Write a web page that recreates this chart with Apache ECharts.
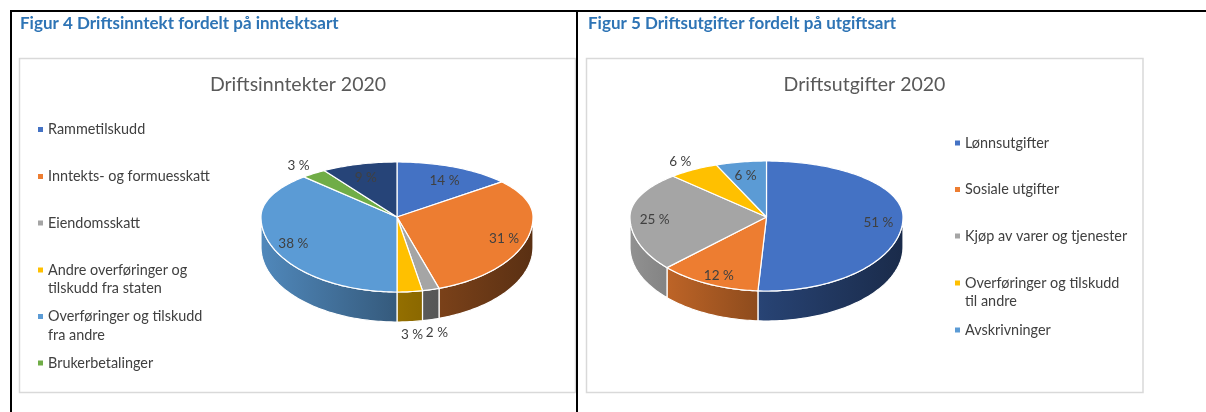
<!DOCTYPE html>
<html><head><meta charset="utf-8">
<script src="https://cdn.jsdelivr.net/npm/echarts@6/dist/echarts.min.js"></script>
<style>html,body{margin:0;padding:0;background:#fff}#c{width:1206px;height:412px}</style>
</head><body><div id="c"></div>
<script>
// ---- data ----
const inntektKategorier = ['Rammetilskudd', 'Inntekts- og formuesskatt', 'Eiendomsskatt', 'Andre overføringer og tilskudd fra staten', 'Overføringer og tilskudd fra andre', 'Brukerbetalinger', 'Øvrige inntekter'];
const inntektVerdier = [14, 31, 2, 3, 38, 3, 9];
const utgiftKategorier = ['Lønnsutgifter', 'Sosiale utgifter', 'Kjøp av varer og tjenester', 'Overføringer og tilskudd til andre', 'Avskrivninger'];
const utgiftVerdier = [51, 12, 25, 6, 6];

// ---- styles ----
const inntektFarger = ['#4472C4', '#ED7D31', '#A5A5A5', '#FFC000', '#5B9BD5', '#70AD47', '#264478'];
const utgiftFarger = ['#4472C4', '#ED7D31', '#A5A5A5', '#FFC000', '#5B9BD5'];
const inntektEtikettUtenfor = [false, false, true, true, false, true, false];
const utgiftEtikettUtenfor = [false, false, false, true, false];
const inntektLegendAntall = 6;
const legendBryt = {
  'Andre overføringer og tilskudd fra staten': 'Andre overføringer og\ntilskudd fra staten',
  'Overføringer og tilskudd fra andre': 'Overføringer og tilskudd\nfra andre',
  'Overføringer og tilskudd til andre': 'Overføringer og tilskudd\ntil andre'
};

const FONT = 'Lato, "Open Sans", sans-serif';
const TXT = '#404040';
const LH = 18.5;

function shade(hex, f) {
  const n = parseInt(hex.slice(1), 16);
  const r = Math.round(((n >> 16) & 255) * f), g = Math.round(((n >> 8) & 255) * f), b = Math.round((n & 255) * f);
  return 'rgb(' + r + ',' + g + ',' + b + ')';
}

function makeRender(values, colors, outside, geo) {
  const total = values.reduce((a, b) => a + b, 0);
  const starts = [];
  let acc = 0;
  values.forEach(v => { starts.push(acc); acc += v; });
  function pt(th, k, dy) {
    const c = Math.cos(th);
    const ry = c > 0 ? geo.ryTop : geo.ryBot;
    return [geo.cx + k * geo.rx * Math.sin(th), geo.cy - k * ry * c + (dy || 0)];
  }
  function arc(a, b, dy) {
    const n = Math.max(2, Math.ceil((b - a) / 0.02));
    const out = [];
    for (let j = 0; j <= n; j++) out.push(pt(a + (b - a) * j / n, 1, dy));
    return out;
  }
  return function (params, api) {
    const i = params.dataIndex;
    const v = api.value(0);
    const a0 = starts[i] / total * Math.PI * 2;
    const a1 = (starts[i] + v) / total * Math.PI * 2;
    const col = colors[i];
    const children = [];
    const lo = Math.max(a0, Math.PI / 2), hi = Math.min(a1, Math.PI * 1.5);
    if (hi > lo) {
      const pts = arc(lo, hi, 0).concat(arc(lo, hi, geo.depth).reverse());
      children.push({
        type: 'polygon', z2: 1,
        shape: { points: pts },
        style: {
          fill: {
            type: 'linear', global: true, x: geo.cx - geo.rx, y: 0, x2: geo.cx + geo.rx, y2: 0,
            colorStops: [
              { offset: 0, color: shade(col, 0.88) },
              { offset: 0.5, color: shade(col, 0.58) },
              { offset: 1, color: shade(col, 0.38) }
            ]
          },
          stroke: '#ffffff', lineWidth: 1.2
        }
      });
    }
    const topPts = [[geo.cx, geo.cy]].concat(arc(a0, a1, 0));
    children.push({
      type: 'polygon', z2: 10,
      shape: { points: topPts },
      style: { fill: col, stroke: '#ffffff', lineWidth: 1.2, lineJoin: 'round' }
    });
    const mid = (a0 + a1) / 2;
    let p;
    if (outside[i]) {
      p = pt(mid, 1.18, Math.cos(mid) < 0 ? geo.depth : 0);
    } else {
      p = pt(mid, 0.82, 4);
    }
    children.push({
      type: 'text', z2: 20,
      style: {
        text: Math.round(v / total * 100) + ' %',
        x: p[0], y: p[1], align: 'center', verticalAlign: 'middle',
        fill: TXT, font: '13.5px ' + FONT
      }
    });
    return { type: 'group', children: children };
  };
}

const geoL = { cx: 397, cy: 217, rx: 136, ryTop: 55, ryBot: 75, depth: 30 };
const geoR = { cx: 766.5, cy: 217, rx: 136.5, ryTop: 56, ryBot: 74, depth: 30 };

const series = [
  {
    type: 'custom', name: 'Driftsinntekter 2020', coordinateSystem: 'none', silent: true,
    data: inntektVerdier, renderItem: makeRender(inntektVerdier, inntektFarger, inntektEtikettUtenfor, geoL)
  },
  {
    type: 'custom', name: 'Driftsutgifter 2020', coordinateSystem: 'none', silent: true,
    data: utgiftVerdier, renderItem: makeRender(utgiftVerdier, utgiftFarger, utgiftEtikettUtenfor, geoR)
  }
];
inntektKategorier.slice(0, inntektLegendAntall).forEach((n, i) => {
  series.push({ type: 'custom', name: n, coordinateSystem: 'none', data: [], renderItem: () => null, itemStyle: { color: inntektFarger[i] } });
});
utgiftKategorier.forEach((n, i) => {
  series.push({ type: 'custom', name: n, coordinateSystem: 'none', data: [], renderItem: () => null, itemStyle: { color: utgiftFarger[i] } });
});

// Two-line legend entries get an empty leading line so the marker sits on the first text line.
function legendItem(name, left, c) {
  const two = !!legendBryt[name];
  return {
    data: [name],
    left: left, top: two ? c - 1.5 * LH : c - 0.5 * LH,
    orient: 'vertical', padding: 0, icon: 'rect', itemWidth: 5, itemHeight: 5,
    selectedMode: false,
    formatter: n => legendBryt[n] ? '\n' + legendBryt[n] : n,
    textStyle: { fontFamily: FONT, fontSize: 14.4, color: TXT, lineHeight: LH }
  };
}
const legends = [];
const leftLegendY = [129.5, 176.5, 223, 270, 316.5, 363];
inntektKategorier.slice(0, inntektLegendAntall).forEach((n, i) => legends.push(legendItem(n, 38, leftLegendY[i])));
const rightLegendY = [143, 189.5, 236, 283, 330];
utgiftKategorier.forEach((n, i) => legends.push(legendItem(n, 955, rightLegendY[i])));

const option = {
  animation: false,
  backgroundColor: '#ffffff',
  title: [
    { text: 'Figur 4 Driftsinntekt fordelt på inntektsart', left: 20, top: 15, padding: 0,
      textStyle: { fontFamily: FONT, fontWeight: 'bold', fontSize: 17, color: '#2E74B5' } },
    { text: 'Figur 5 Driftsutgifter fordelt på utgiftsart', left: 588, top: 15, padding: 0,
      textStyle: { fontFamily: FONT, fontWeight: 'bold', fontSize: 17, color: '#2E74B5' } },
    { text: 'Driftsinntekter 2020', left: 298, top: 75, padding: 0, textAlign: 'center',
      textStyle: { fontFamily: FONT, fontWeight: 'normal', fontSize: 19.5, color: '#595959' } },
    { text: 'Driftsutgifter 2020', left: 864.5, top: 75, padding: 0, textAlign: 'center',
      textStyle: { fontFamily: FONT, fontWeight: 'normal', fontSize: 19.5, color: '#595959' } }
  ],
  legend: legends,
  graphic: [
    { type: 'rect', z: -10, shape: { x: 19.5, y: 58.5, width: 556, height: 334 }, style: { fill: '#fff', stroke: '#D9D9D9', lineWidth: 1.5 } },
    { type: 'rect', z: -10, shape: { x: 586.5, y: 58.5, width: 556.5, height: 334 }, style: { fill: '#fff', stroke: '#D9D9D9', lineWidth: 1.5 } },
    { type: 'line', z: 100, shape: { x1: 10, y1: 11, x2: 1206, y2: 11 }, style: { stroke: '#000', lineWidth: 2 } },
    { type: 'line', z: 100, shape: { x1: 11, y1: 10, x2: 11, y2: 412 }, style: { stroke: '#000', lineWidth: 2 } },
    { type: 'line', z: 100, shape: { x1: 577, y1: 10, x2: 577, y2: 412 }, style: { stroke: '#000', lineWidth: 2 } }
  ],
  series: series
};

const chart = echarts.init(document.getElementById('c'), null, { renderer: 'canvas' });
chart.setOption(option);
</script>
</body></html>
